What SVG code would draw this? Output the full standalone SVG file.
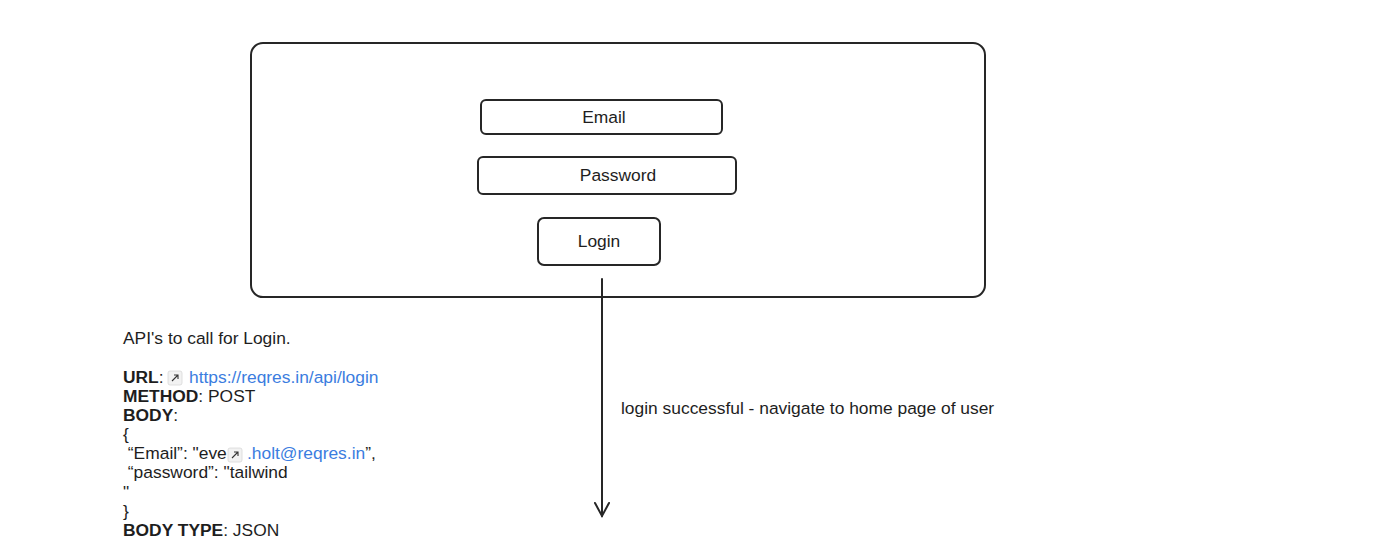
<svg xmlns="http://www.w3.org/2000/svg" width="1398" height="555" viewBox="0 0 1398 555">
<style>
.box{fill:none;stroke:#262626;stroke-width:2}
.t{font-family:"Liberation Sans",Arial,sans-serif;font-size:17.4px;fill:#1e1e1e}
.c{text-anchor:middle}
.b{font-weight:bold}
.lnk{fill:#3b7de0}
.ic{fill:#f2f2f2;stroke:#d8d8d8;stroke-width:0.8}
.ica{fill:none;stroke:#333;stroke-width:1.1}
.conn{fill:none;stroke:#262626;stroke-width:2;stroke-linecap:round}
</style>
<rect width="1398" height="555" fill="#ffffff"/>
<g id="frame">
<rect class="box" x="251" y="43" width="734" height="254" rx="12"/>
</g>
<g id="email">
<rect class="box" x="481" y="100" width="241" height="34" rx="5"/>
<text class="t c" x="604" y="123">Email</text>
</g>
<g id="password">
<rect class="box" x="478" y="157" width="258" height="37" rx="5"/>
<text class="t c" x="618" y="181">Password</text>
</g>
<g id="login">
<rect class="box" x="538" y="218" width="122" height="47" rx="6"/>
<text class="t c" x="599" y="247">Login</text>
</g>
<g id="connectors">
<path class="conn" d="M602 279 L602 516"/>
<path class="conn" d="M595 503 L602 516 L609 503"/>
<text class="t" x="621" y="414">login successful - navigate to home page of user</text>
</g>
<g id="api-notes">
<text class="t" x="123" y="344">API's to call for Login.</text>
<text class="t" x="123" y="383"><tspan class="b">URL</tspan>: </text>
<rect class="ic" x="168" y="371" width="14" height="14" rx="2"/>
<path class="ica" d="M172 381 L178 375 M174 375 L178 375 L178 379"/>
<text class="t lnk" x="189" y="383">https://reqres.in/api/login</text>
<text class="t" x="123" y="402"><tspan class="b">METHOD</tspan>: POST</text>
<text class="t" x="123" y="421"><tspan class="b">BODY</tspan>:</text>
<text class="t" x="123" y="440">{</text>
<text class="t" x="123" y="459" xml:space="preserve"> “Email”: "eve</text>
<rect class="ic" x="228" y="448" width="14" height="14" rx="2"/>
<path class="ica" d="M232 458 L238 452 M234 452 L238 452 L238 456"/>
<text class="t" x="247" y="459"><tspan class="lnk">.holt@reqres.in</tspan>”,</text>
<text class="t" x="123" y="478" xml:space="preserve"> “password”: "tailwind</text>
<text class="t" x="123" y="498">"</text>
<text class="t" x="123" y="517">}</text>
<text class="t" x="123" y="536"><tspan class="b">BODY TYPE</tspan>: JSON</text>
</g>
</svg>
